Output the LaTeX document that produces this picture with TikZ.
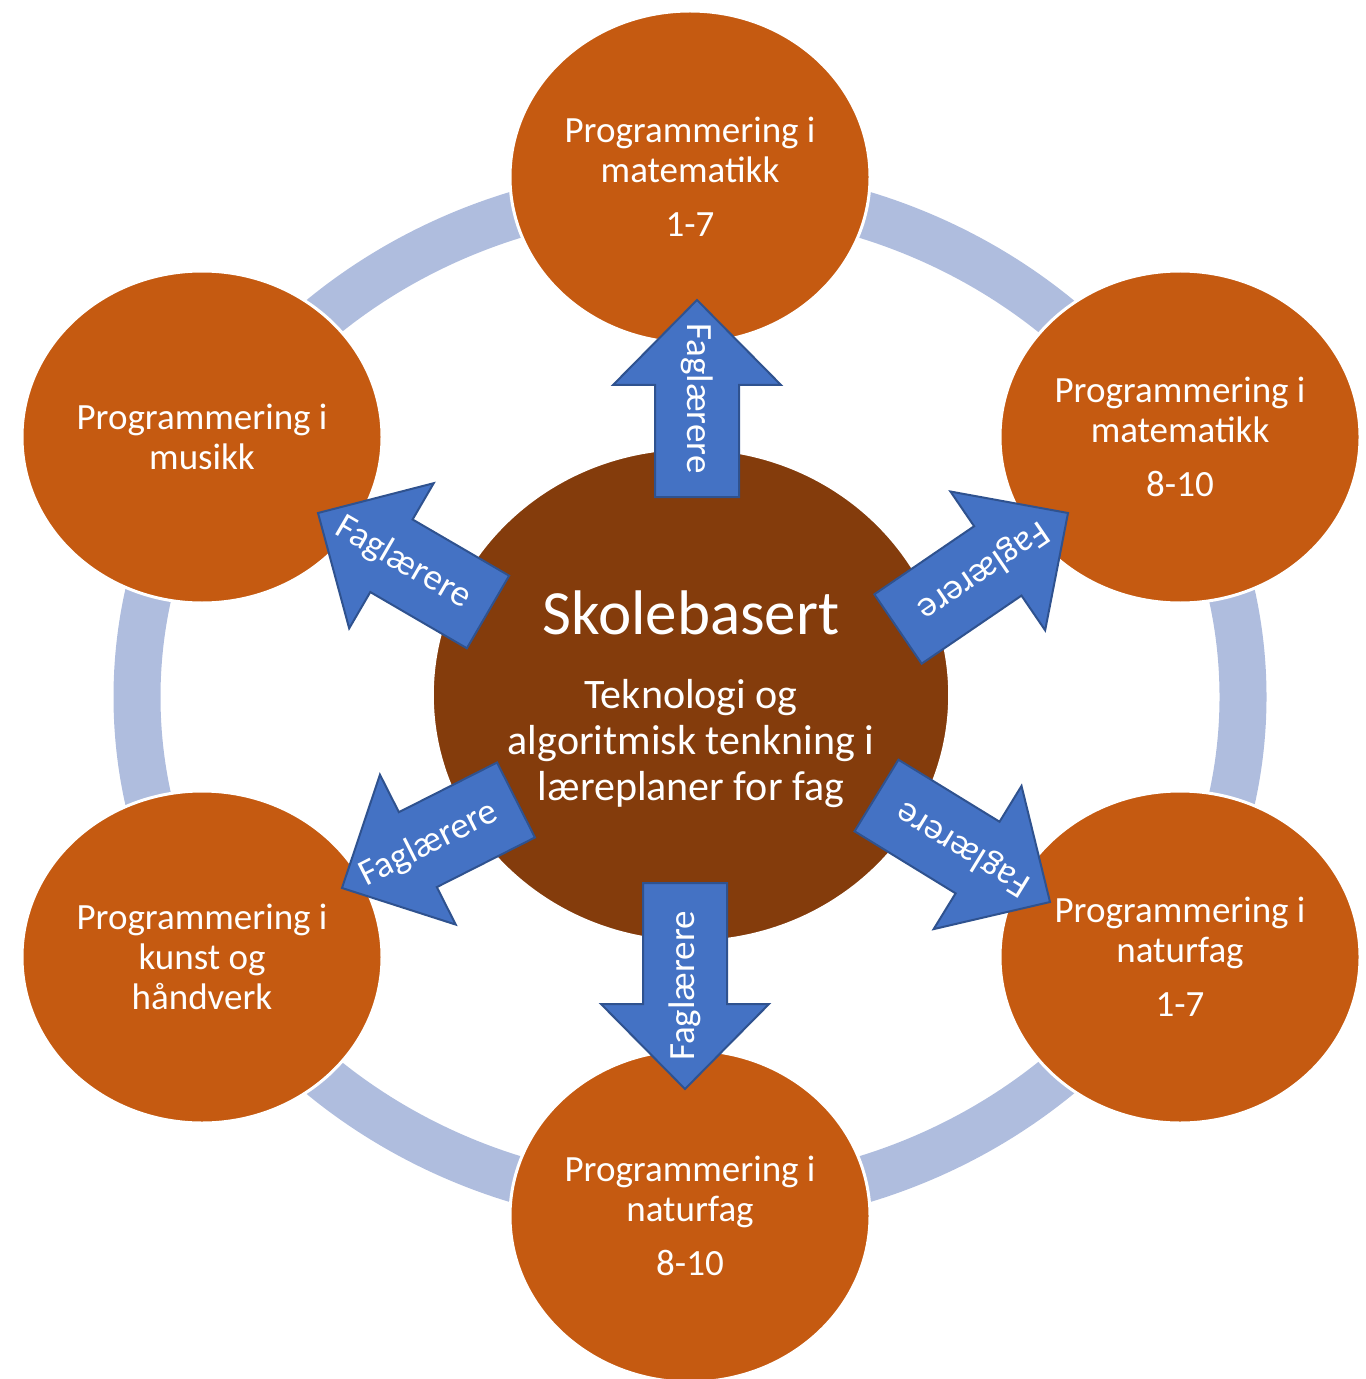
\documentclass[tikz,border=0pt]{standalone}
\usepackage{fontspec}
\setmainfont{Carlito}
\usetikzlibrary{calc,shapes.geometric}
\definecolor{ringc}{HTML}{AFBDDE}
\definecolor{outerc}{HTML}{C55A11}
\definecolor{centerc}{HTML}{843C0C}
\definecolor{arrowc}{HTML}{4472C4}
\definecolor{arrowd}{HTML}{2F528F}
\tikzset{
  ringsty/.style={draw=ringc, line width=23.5pt},
  outer/.style={ellipse, fill=outerc, draw=white, line width=1.5pt,
    minimum width=180pt, minimum height=166pt, inner sep=0pt,
    text=white, font=\fontsize{18.5}{20}\selectfont, align=center},
  centre/.style={ellipse, fill=centerc, draw=white, line width=0.8pt,
    minimum width=258pt, minimum height=246pt, inner sep=0pt},
  fagarrow/.style={fill=arrowc, draw=arrowd, line width=1pt, line join=miter},
  fagtext/.style={text=white, font=\fontsize{18.5}{20}\selectfont, inner sep=0pt},
  bigtext/.style={text=white, font=\fontsize{31.5}{36}\selectfont, inner sep=0pt},
  midtext/.style={text=white, font=\fontsize{21}{23}\selectfont, align=center, inner sep=0pt},
}
\newcommand\fagarrow[3]{%
  \coordinate (#1t) at (#2);
  \coordinate (#1p) at (#3);
  \coordinate (#1h) at ($(#1p)!42.5pt!(#1t)$);
  \draw[fagarrow] ($(#1t)!21pt!90:(#1p)$) -- ($(#1h)!21pt!-90:(#1t)$)
    -- ($(#1h)!42pt!-90:(#1t)$) -- (#1p) -- ($(#1h)!42pt!90:(#1t)$)
    -- ($(#1h)!21pt!90:(#1t)$) -- ($(#1t)!21pt!-90:(#1p)$) -- cycle;
  \path (#1p) -- node[fagtext, sloped, allow upside down] (#1x) {Faglærere} (#1t);
}
\begin{document}
\begin{tikzpicture}[x=0.5pt, y=-0.5pt]
\useasboundingbox (0,0) rectangle (1365,1379);
% ring
\draw[ringsty] (690,697) ellipse [x radius=276.5pt, y radius=254pt];
% outer circles
\node[outer] (top) at (690,177) {Programmering i\\matematikk\\[7pt]1-7};
\node[outer] (tr) at (1180,437) {Programmering i\\matematikk\\[7pt]8-10};
\node[outer] (br) at (1180,957) {Programmering i\\naturfag\\[7pt]1-7};
\node[outer] (bot) at (690,1216) {Programmering i\\naturfag\\[7pt]8-10};
\node[outer] (bl) at (202,957) {Programmering i\\kunst og\\håndverk};
\node[outer] (tl) at (202,437) {Programmering i\\musikk};
% centre
\node[centre] (mid) at (691,695) {};
\node[bigtext] (skole) at (691,613) {Skolebasert};
\node[midtext] (tekno) at (691,744) {Teknologi og\\algoritmisk tenkning i\\læreplaner for fag};
% arrows
\fagarrow{aT}{697,497}{697,300}
\fagarrow{aB}{685,883}{685,1089}
\fagarrow{aTR}{898,629}{1068,513}
\fagarrow{aBR}{876.5,795.5}{1050,902}
\fagarrow{aTL}{488,612}{318,513}
\fagarrow{aBL}{516,800}{342,888}
\end{tikzpicture}
\end{document}
